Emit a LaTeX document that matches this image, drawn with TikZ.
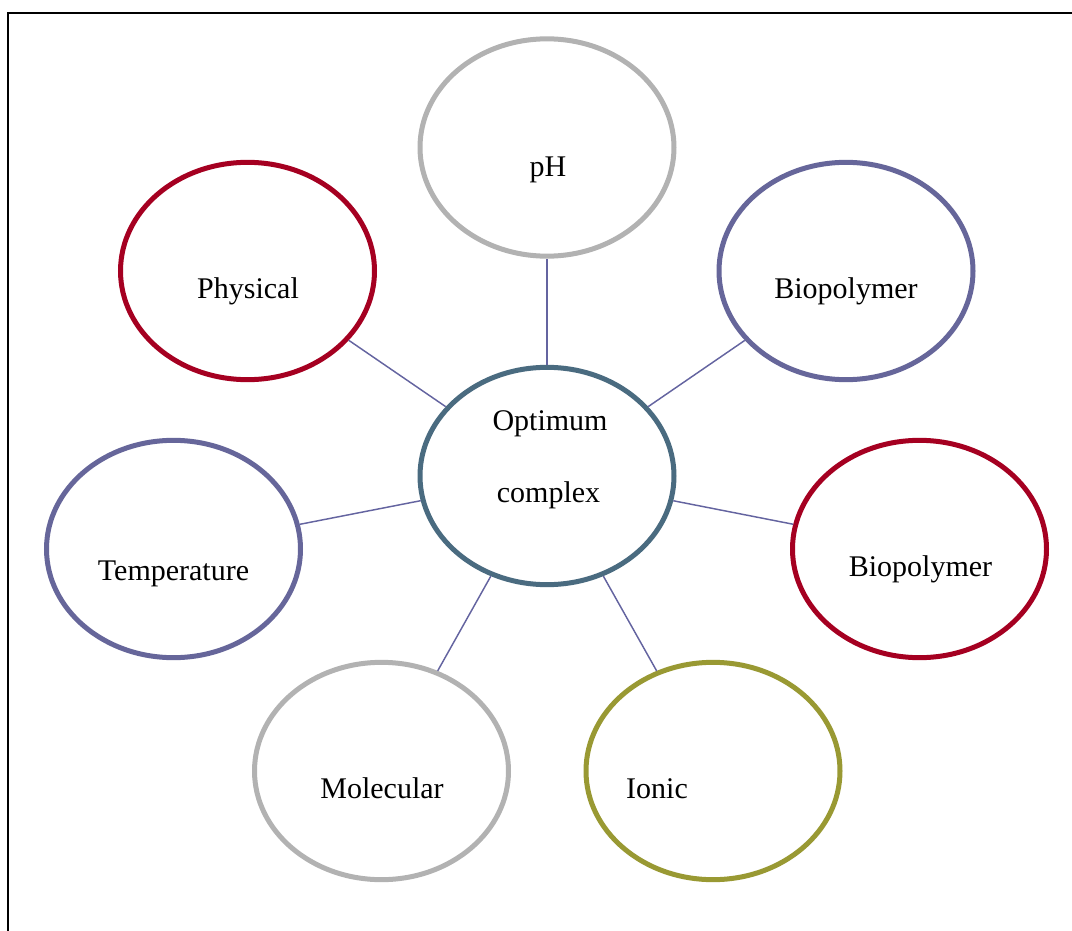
\documentclass[tikz,border=0pt]{standalone}
\usepackage{fontspec}
\setmainfont{Liberation Serif}
\usetikzlibrary{shapes.geometric}
\definecolor{cred}{HTML}{A50021}
\definecolor{cblue}{HTML}{66669A}
\definecolor{cgrey}{HTML}{B2B2B2}
\definecolor{ccenter}{HTML}{4A6B80}
\definecolor{colive}{HTML}{999933}
\definecolor{cline}{HTML}{6464A0}
\tikzset{
  bubble/.style={ellipse, draw, line width=3.75pt, minimum width=190.5pt, minimum height=163pt, inner sep=0pt, fill=white},
  lbl/.style={anchor=base, font=\fontsize{22.5}{26}\selectfont, inner sep=0pt},
  conn/.style={draw=cline, line width=1.1pt},
}
\begin{document}
\begin{tikzpicture}[x=0.75pt,y=-0.75pt]
\useasboundingbox (0,0) rectangle (1072,931);
\draw[line width=1.6pt] (8,931) -- (8,13) -- (1072,13);
\node[bubble, draw=ccenter] (c) at (547,476) {};
\node[bubble, draw=cgrey] (ph) at (547,147.5) {};
\node[bubble, draw=cred] (phys) at (247.5,271) {};
\node[bubble, draw=cblue] (bio1) at (846,271) {};
\node[bubble, draw=cblue] (temp) at (173.5,549) {};
\node[bubble, draw=cred] (bio2) at (919.5,549) {};
\node[bubble, draw=cgrey] (mol) at (381.5,771) {};
\node[bubble, draw=colive] (ion) at (713,771) {};
\foreach \n in {ph,phys,bio1,temp,bio2,mol,ion}{
  \draw[conn] (c) -- (\n);
}
\node[lbl] (tc1) at (550,430) {Optimum};
\node[lbl] (tc2) at (548.5,502) {complex};
\node[lbl] (tph) at (548,176) {pH};
\node[lbl] (tphys) at (248,298) {Physical};
\node[lbl] (tbio1) at (846,298) {Biopolymer};
\node[lbl] (ttemp) at (173.5,580) {Temperature};
\node[lbl] (tbio2) at (920.5,576) {Biopolymer};
\node[lbl] (tmol) at (382,798) {Molecular};
\node[lbl] (tion) at (657,798) {Ionic};
\end{tikzpicture}
\end{document}
